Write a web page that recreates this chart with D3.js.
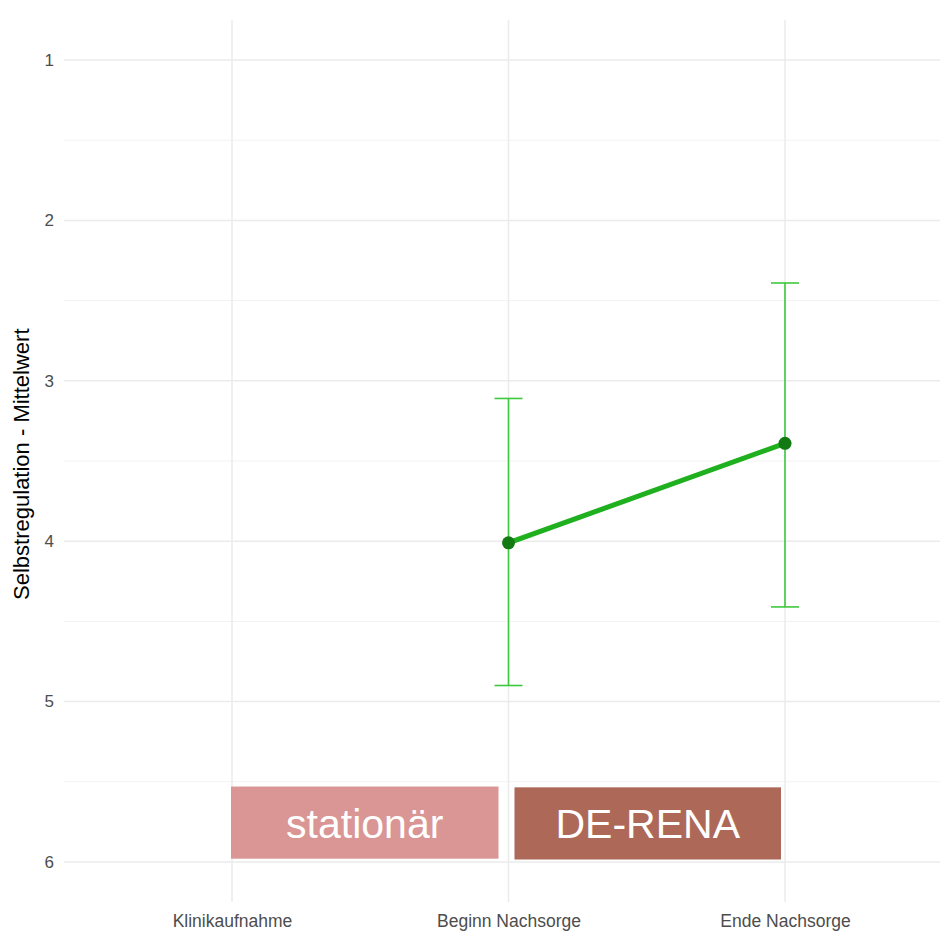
<!DOCTYPE html>
<html>
<head>
<meta charset="utf-8">
<script src="https://cdn.jsdelivr.net/npm/d3@7"></script>
<style>
  body { margin: 0; background: #fff; }
  text { font-family: "Liberation Sans", Arial, sans-serif; }
</style>
</head>
<body>
<div id="chart"></div>
<script>
// categories (time points)
var categories = ["Klinikaufnahme", "Beginn Nachsorge", "Ende Nachsorge"];
// mean values and error bar limits per time point (null = no data)
var means = [null, 4.01, 3.39];
var lower = [null, 3.11, 2.39];
var upper = [null, 4.90, 4.41];
var yTicks = [1, 2, 3, 4, 5, 6];
// phase boxes
var phases = ["stationär", "DE-RENA"];
var phaseFrom = ["Klinikaufnahme", "Beginn Nachsorge"];
var phaseTo = ["Beginn Nachsorge", "Ende Nachsorge"];
var phaseTop = [5.53, 5.535];
var phaseBottom = [5.98, 5.985];
var phaseColors = ["#d99694", "#ad6857"];

var width = 940, height = 932;
var margin = {top: 20, right: 0, bottom: 30, left: 64};

var svg = d3.select("#chart").append("svg")
    .attr("width", width)
    .attr("height", height);

var x = d3.scalePoint()
    .domain(categories)
    .range([232, 785]);

var y = d3.scaleLinear()
    .domain([0.75, 6.25])
    .range([20, 902]);

var grid = svg.append("g");

// minor grid
d3.range(1.5, 6, 1).forEach(function(v) {
  grid.append("line")
      .attr("x1", margin.left).attr("x2", width)
      .attr("y1", y(v)).attr("y2", y(v))
      .attr("stroke", "#f2f2f2").attr("stroke-width", 1);
});
// major grid
yTicks.forEach(function(v) {
  grid.append("line")
      .attr("x1", margin.left).attr("x2", width)
      .attr("y1", y(v)).attr("y2", y(v))
      .attr("stroke", "#ebebeb").attr("stroke-width", 1.5);
});
categories.forEach(function(c) {
  grid.append("line")
      .attr("x1", x(c)).attr("x2", x(c))
      .attr("y1", 20).attr("y2", 902)
      .attr("stroke", "#ebebeb").attr("stroke-width", 1.5);
});

// axes
var yAxis = d3.axisLeft(y).tickValues(yTicks).tickFormat(d3.format("d")).tickSize(0).tickPadding(10);
var gy = svg.append("g")
    .attr("transform", "translate(" + margin.left + ",0)")
    .call(yAxis);
gy.select(".domain").remove();
gy.selectAll("text").attr("fill", "#4d4d4d").style("font-size", "17px");

var xAxis = d3.axisBottom(x).tickSize(0).tickPadding(13);
var gx = svg.append("g")
    .attr("transform", "translate(0,902)")
    .call(xAxis);
gx.select(".domain").remove();
gx.selectAll("text").attr("fill", "#4d4d4d").style("font-size", "17.5px");

svg.append("text")
    .attr("transform", "translate(29," + y(3.52) + ") rotate(-90)")
    .attr("text-anchor", "middle")
    .attr("fill", "#000")
    .style("font-size", "22px")
    .text("Selbstregulation - Mittelwert");

// phase boxes
var offsets = [[-1, -10], [6, -4]];
phases.forEach(function(p, i) {
  var x0 = x(phaseFrom[i]) + offsets[i][0];
  var x1 = x(phaseTo[i]) + offsets[i][1];
  svg.append("rect")
      .attr("x", x0)
      .attr("y", y(phaseTop[i]))
      .attr("width", x1 - x0)
      .attr("height", y(phaseBottom[i]) - y(phaseTop[i]))
      .attr("fill", phaseColors[i]);
  svg.append("text")
      .attr("x", (x0 + x1) / 2)
      .attr("y", (y(phaseTop[i]) + y(phaseBottom[i])) / 2 + 15)
      .attr("text-anchor", "middle")
      .attr("fill", "#fff")
      .style("font-size", "41px")
      .text(p);
});

// data
var data = categories.map(function(c, i) {
  return {cat: c, mean: means[i], lo: lower[i], hi: upper[i]};
}).filter(function(d) { return d.mean !== null; });

var eb = svg.append("g");
data.forEach(function(d) {
  var cx = x(d.cat);
  eb.append("line")
      .attr("x1", cx).attr("x2", cx)
      .attr("y1", y(d.lo)).attr("y2", y(d.hi))
      .attr("stroke", "#3ec83e").attr("stroke-width", 1.6);
  [d.lo, d.hi].forEach(function(v) {
    eb.append("line")
        .attr("x1", cx - 14).attr("x2", cx + 14)
        .attr("y1", y(v)).attr("y2", y(v))
        .attr("stroke", "#3ec83e").attr("stroke-width", 1.6);
  });
});

var line = d3.line()
    .x(function(d) { return x(d.cat); })
    .y(function(d) { return y(d.mean); });

svg.append("path")
    .datum(data)
    .attr("d", line)
    .attr("fill", "none")
    .attr("stroke", "#1fb01f")
    .attr("stroke-width", 5);

svg.selectAll("circle.pt")
    .data(data)
    .enter().append("circle")
    .attr("class", "pt")
    .attr("cx", function(d) { return x(d.cat); })
    .attr("cy", function(d) { return y(d.mean); })
    .attr("r", 6.5)
    .attr("fill", "#137a13");
</script>
</body>
</html>
